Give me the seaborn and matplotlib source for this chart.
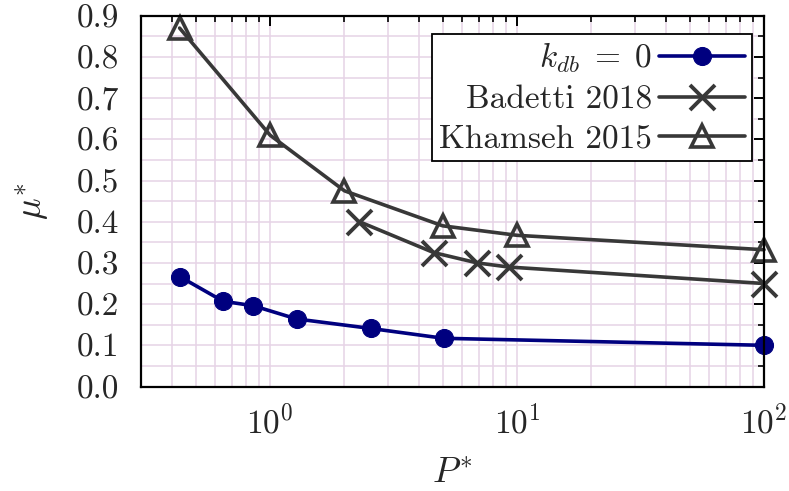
import numpy as np
import pandas as pd
import matplotlib
matplotlib.use('Agg')
import matplotlib.pyplot as plt
import seaborn as sns
from matplotlib.ticker import LogLocator, MultipleLocator, NullFormatter, FormatStrFormatter

############
# Data
############
kdb_p = [0.43, 0.645, 0.855, 1.28, 2.55, 5.05, 100]
kdb_mu = [0.267, 0.207, 0.196, 0.164, 0.141, 0.117, 0.100]

badetti_p = [2.3, 4.6, 6.9, 9.25, 100]
badetti_mu = [0.400, 0.325, 0.300, 0.290, 0.250]

khamseh_p = [0.43, 1.0, 2.0, 5.0, 10, 100]
khamseh_mu = [0.870, 0.610, 0.475, 0.390, 0.367, 0.332]

labels = [r'$k_{db}\;=\;0$', 'Badetti 2018', 'Khamseh 2015']

############
# Style
############
sns.set_style('white')
plt.rcParams['font.family'] = 'serif'
plt.rcParams['font.serif'] = ['cmr10', 'DejaVu Serif']
plt.rcParams['mathtext.fontset'] = 'cm'
plt.rcParams['axes.unicode_minus'] = False
plt.rcParams['axes.formatter.use_mathtext'] = True

navy = '#00007f'
grey = '#383838'
grid_col = '#e6d3e6'

fig = plt.figure(figsize=(7.89, 4.91), dpi=100)
ax = fig.add_axes([0.1787, 0.2128, 0.7896, 0.7552])

sns.lineplot(x=kdb_p, y=kdb_mu, ax=ax, color=navy, lw=2.6, marker='o',
             markersize=13, markeredgecolor=navy, label=labels[0], clip_on=False)
sns.lineplot(x=badetti_p, y=badetti_mu, ax=ax, color=grey, lw=2.6, marker='x',
             markersize=18, markeredgewidth=2.8, markeredgecolor=grey,
             label=labels[1], clip_on=False)
sns.lineplot(x=khamseh_p, y=khamseh_mu, ax=ax, color=grey, lw=2.6, marker='^',
             markersize=16, markeredgewidth=2.6, markerfacecolor='none',
             markeredgecolor=grey, label=labels[2], clip_on=False)

ax.set_xscale('log')
ax.set_xlim(0.3, 100)
ax.set_ylim(0, 0.9)
ax.xaxis.set_major_locator(LogLocator(base=10, numticks=10))
ax.xaxis.set_minor_locator(LogLocator(base=10, subs=np.arange(2, 10), numticks=20))
ax.xaxis.set_minor_formatter(NullFormatter())
ax.yaxis.set_major_locator(MultipleLocator(0.1))
ax.yaxis.set_minor_locator(MultipleLocator(0.05))
ax.yaxis.set_major_formatter(FormatStrFormatter('%.1f'))

ax.grid(True, which='both', color=grid_col, lw=1.1)
ax.set_axisbelow(True)
for s in ax.spines.values():
    s.set_color('black')
    s.set_linewidth(1.6)

ax.tick_params(which='both', direction='in', top=True, right=True,
               color='black', labelsize=24)
ax.tick_params(which='major', length=7, width=1.4)
ax.tick_params(which='minor', length=4, width=1.2)
ax.tick_params(axis='x', which='major', pad=12)
ax.tick_params(axis='y', which='major', pad=16)

ax.set_xlabel(r'$P^{*}$', fontsize=26, labelpad=14)
ax.set_ylabel(r'$\mu^{*}$', fontsize=26, labelpad=18)

leg = ax.legend(loc='upper right', bbox_to_anchor=(0.981, 0.951), markerfirst=False,
                fontsize=24, frameon=True, fancybox=False, edgecolor='black',
                framealpha=1, borderpad=0.2, handlelength=2.6, handletextpad=0.2,
                labelspacing=0.3, borderaxespad=0)
leg.get_frame().set_linewidth(1.3)
leg._legend_box.align = 'right'

fig.savefig('out.png', dpi=100)
